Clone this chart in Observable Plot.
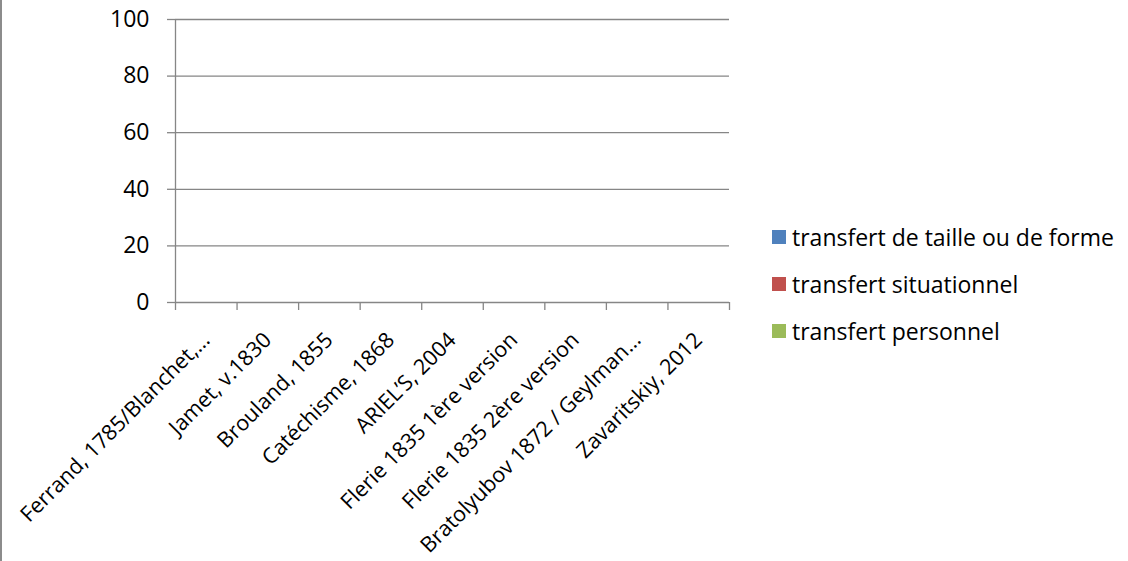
<!DOCTYPE html>
<html><head><meta charset="utf-8">
<script src="https://cdn.jsdelivr.net/npm/d3@7"></script>
<script src="https://cdn.jsdelivr.net/npm/@observablehq/plot@0.6"></script>
<style>
body{margin:0;background:#fff;}
#wrap{position:relative;width:1128px;height:561px;font-family:"Open Sans",sans-serif;overflow:hidden}
#wrap::before{content:"";position:absolute;left:0;top:0;bottom:0;width:2px;background:#8c8c8c}
.legend{position:absolute;left:772px;top:213px;font-size:23px;color:#000}
.legend .item{display:flex;align-items:center;height:47px;white-space:nowrap}
.legend .sw{width:14px;height:14px;margin-right:6px;flex:none}
</style></head><body><div id="wrap"></div>
<script>
const categories = ["Ferrand, 1785/Blanchet,…","Jamet, v.1830","Brouland, 1855","Catéchisme, 1868","ARIEL’S, 2004","Flerie 1835 1ère version","Flerie 1835 2ère version","Bratolyubov 1872 / Geylman…","Zavaritskiy, 2012"];
const seriesNames = ["transfert de taille ou de forme","transfert situationnel","transfert personnel"];
const seriesColors = ["#4f81bd","#c0504d","#9bbb59"];
const tailleForme = [0,0,0,0,0,0,0,0,0];
const situationnel = [0,0,0,0,0,0,0,0,0];
const personnel = [0,0,0,0,0,0,0,0,0];
const yTicks = [0,20,40,60,80,100];

const seriesValues = [tailleForme, situationnel, personnel];
const rows = categories.flatMap((c,i)=>seriesNames.map((s,j)=>({i, cat:c, series:s, value:seriesValues[j][i]})));
const n = categories.length;
const grey = "#868686";

const plot = Plot.plot({
  width:1128, height:561,
  marginLeft:175, marginRight:399, marginTop:19, marginBottom:259,
  style:{fontFamily:"'Open Sans', sans-serif", fontSize:"23px", color:"#000", background:"transparent", overflow:"visible"},
  x:{type:"linear", domain:[0,n], axis:null},
  y:{domain:[0,100], axis:null},
  color:{domain:seriesNames, range:seriesColors},
  marks:[
    Plot.ruleY(yTicks, {x1:0, x2:n, stroke:grey, strokeWidth:1.3}),
    Plot.rectY(rows, Plot.stackY({x1:d=>d.i, x2:d=>d.i+1, y:"value", fill:"series", insetLeft:12, insetRight:12})),
    Plot.axisY({ticks:yTicks, label:null, tickSize:8, tickPadding:18, stroke:grey, strokeOpacity:1, strokeWidth:1.3, fontSize:23, fill:"#000"}),
    Plot.ruleX([0], {y1:0, y2:100, stroke:grey, strokeWidth:1.3}),
    Plot.axisX({ticks:d3.range(0,n+1), label:null, tickFormat:()=>"", tickSize:8, stroke:grey, strokeOpacity:1, strokeWidth:1.3}),
    Plot.text(categories, {x:(d,i)=>i+0.5, y:0, text:d=>d, rotate:-45, textAnchor:"end", lineAnchor:"top", dx:-6, dy:28, fontSize:21.5, fill:"#000"})
  ]
});
const wrap = document.getElementById("wrap");
wrap.appendChild(plot);
const legend = document.createElement("div");
legend.className = "legend";
seriesNames.forEach((s,j)=>{
  const it = document.createElement("div"); it.className="item";
  const sw = document.createElement("span"); sw.className="sw"; sw.style.background=seriesColors[j];
  const tx = document.createElement("span"); tx.textContent=s;
  it.appendChild(sw); it.appendChild(tx); legend.appendChild(it);
});
wrap.appendChild(legend);
</script></body></html>
